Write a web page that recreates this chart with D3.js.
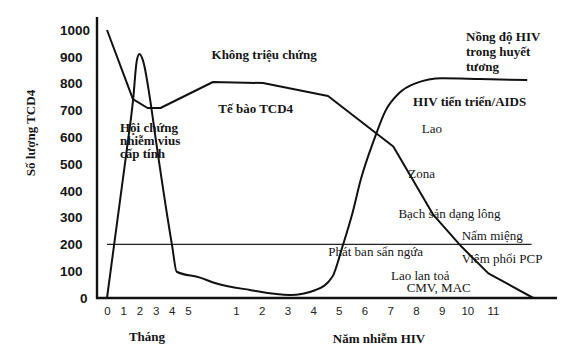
<!DOCTYPE html>
<html>
<head>
<meta charset="utf-8">
<script src="https://cdn.jsdelivr.net/npm/d3@7"></script>
<style>
  body { margin: 0; background: #fff; }
  svg text { fill: #151515; }
  .serif { font-family: "Liberation Serif", "Times New Roman", serif; }
</style>
</head>
<body>
<div id="chart"></div>
<script>
// y ticks (số lượng TCD4)
const yTicks = [0, 100, 200, 300, 400, 500, 600, 700, 800, 900, 1000];
// x ticks: months 0..5, then years 1..11 (t = 5 + year)
const monthTicks = [0, 1, 2, 3, 4, 5];
const yearTicks = [1, 2, 3, 4, 5, 6, 7, 8, 9, 10, 11];

// TCD4 curve
const cd4T = [0, 1.6, 2.5, 3.3, 5.52, 7.05, 9.58, 12.12, 12.77, 13.68, 14.78, 15.82, 17.57];
const cd4V = [1000, 742, 709, 709, 806, 802, 754, 565, 459, 310, 191, 92, 0];

// HIV concentration curve
const hivT = [0, 1.22, 1.62, 1.83, 2.0, 2.24, 2.65, 3.06, 4.03, 4.3, 5.25, 5.56, 6.54, 8.1, 9.1, 9.75, 10.14, 10.53, 10.85, 11.37, 11.83, 12.34, 12.98, 14.02, 15.5, 17.33];
const hivV = [0, 552, 745, 882, 910, 882, 745, 571, 191, 98, 76, 56, 30, 11, 30, 79, 191, 316, 440, 590, 701, 764, 801, 820, 817, 813];

// threshold 200
const threshold = 200;
const thresholdSpan = [0, 17.5];

// annotations (data coords)
const notes = [
  { lines: ["Hội chứng", "nhiễm vius", "cấp tính"], t: 0.8, v: 620, bold: true },
  { lines: ["Không triệu chứng"], t: 5.49, v: 890, bold: true },
  { lines: ["Tế bào TCD4"], t: 5.63, v: 691, bold: true },
  { lines: ["Nồng độ HIV", "trong huyết", "tương"], t: 14.95, v: 960, bold: true },
  { lines: ["HIV tiến triển/AIDS"], t: 12.89, v: 716, bold: true },
  { lines: ["Lao"], t: 13.23, v: 617 },
  { lines: ["Zona"], t: 12.7, v: 447 },
  { lines: ["Bạch sản dạng lông"], t: 12.32, v: 297 },
  { lines: ["Nấm miệng"], t: 14.78, v: 216 },
  { lines: ["Phát ban sẩn ngứa"], t: 9.59, v: 157 },
  { lines: ["Viêm phổi PCP"], t: 14.78, v: 129 },
  { lines: ["Lao lan toả"], t: 12.03, v: 67 },
  { lines: ["CMV, MAC"], t: 12.64, v: 22 }
];

const width = 572, height = 354;

const svg = d3.select("#chart").append("svg")
  .attr("width", width)
  .attr("height", height);

// months squeezed on the left, years after
const x = d3.scaleLinear()
  .domain([0, 5, 6, 16])
  .range([107, 188, 236, 493]);

const y = d3.scaleLinear()
  .domain([0, 1000])
  .range([298, 30]);

const axisX0 = 97, axisY0 = 298;

// axis lines
svg.append("line")
  .attr("x1", axisX0).attr("x2", axisX0)
  .attr("y1", 17).attr("y2", axisY0 + 1)
  .attr("stroke", "#111").attr("stroke-width", 2.4);
svg.append("line")
  .attr("x1", axisX0 - 1).attr("x2", 557)
  .attr("y1", axisY0).attr("y2", axisY0)
  .attr("stroke", "#111").attr("stroke-width", 2.4);

// y tick labels
svg.append("g").selectAll("text")
  .data(yTicks)
  .join("text")
  .attr("x", d => d === 0 ? 80 : 60)
  .attr("y", d => y(d))
  .attr("dy", "0.36em")
  .style("font-family", "'Liberation Sans', Arial, sans-serif")
  .style("font-weight", "bold")
  .style("font-size", "13.5px")
  .text(d => d);

// x tick labels
const xAxisMonths = d3.axisBottom(x).tickValues(monthTicks).tickSize(0).tickPadding(8).tickFormat(d => d);
const xAxisYears = d3.axisBottom(x).tickValues(yearTicks.map(d => 5 + d)).tickSize(0).tickPadding(8).tickFormat(d => d - 5);

[xAxisMonths, xAxisYears].forEach(ax => {
  const g = svg.append("g")
    .attr("transform", `translate(0,${axisY0 + 1})`)
    .call(ax);
  g.select(".domain").remove();
  g.selectAll("text")
    .style("font-family", "'Liberation Sans', Arial, sans-serif")
    .style("font-size", "11.5px")
    .style("fill", "#222");
});

// axis titles
svg.append("text")
  .attr("class", "serif")
  .attr("transform", "translate(35,133) rotate(-90)")
  .attr("text-anchor", "middle")
  .style("font-weight", "bold")
  .style("font-size", "13px")
  .text("Số lượng TCD4");

svg.append("text")
  .attr("class", "serif")
  .attr("x", 147).attr("y", 341)
  .attr("text-anchor", "middle")
  .style("font-weight", "bold")
  .style("font-size", "13px")
  .text("Tháng");

svg.append("text")
  .attr("class", "serif")
  .attr("x", 379).attr("y", 343)
  .attr("text-anchor", "middle")
  .style("font-weight", "bold")
  .style("font-size", "13px")
  .text("Năm nhiễm HIV");

// threshold line
svg.append("line")
  .attr("x1", x(thresholdSpan[0])).attr("x2", x(thresholdSpan[1]))
  .attr("y1", y(threshold)).attr("y2", y(threshold))
  .attr("stroke", "#222").attr("stroke-width", 1.4);

// TCD4 line
const cd4 = cd4T.map((t, i) => ({ t: t, v: cd4V[i] }));
svg.append("path")
  .datum(cd4)
  .attr("fill", "none")
  .attr("stroke", "#111")
  .attr("stroke-width", 2)
  .attr("stroke-linejoin", "round")
  .attr("d", d3.line().x(d => x(d.t)).y(d => y(d.v)));

// HIV line
const hiv = hivT.map((t, i) => ({ t: t, v: hivV[i] }));
svg.append("path")
  .datum(hiv)
  .attr("fill", "none")
  .attr("stroke", "#111")
  .attr("stroke-width", 2)
  .attr("d", d3.line().curve(d3.curveMonotoneX).x(d => x(d.t)).y(d => y(d.v)));

// annotations
notes.forEach(n => {
  const txt = svg.append("text")
    .attr("class", "serif")
    .attr("x", x(n.t))
    .attr("y", y(n.v))
    .style("font-size", n.bold ? "13px" : "13px")
    .style("font-weight", n.bold ? "bold" : "normal");
  txt.selectAll("tspan")
    .data(n.lines)
    .join("tspan")
    .attr("x", x(n.t))
    .attr("dy", (d, i) => i === 0 ? 0 : (n.bold && n.t > 10 ? 15 : 13.3))
    .text(d => d);
});
</script>
</body>
</html>
